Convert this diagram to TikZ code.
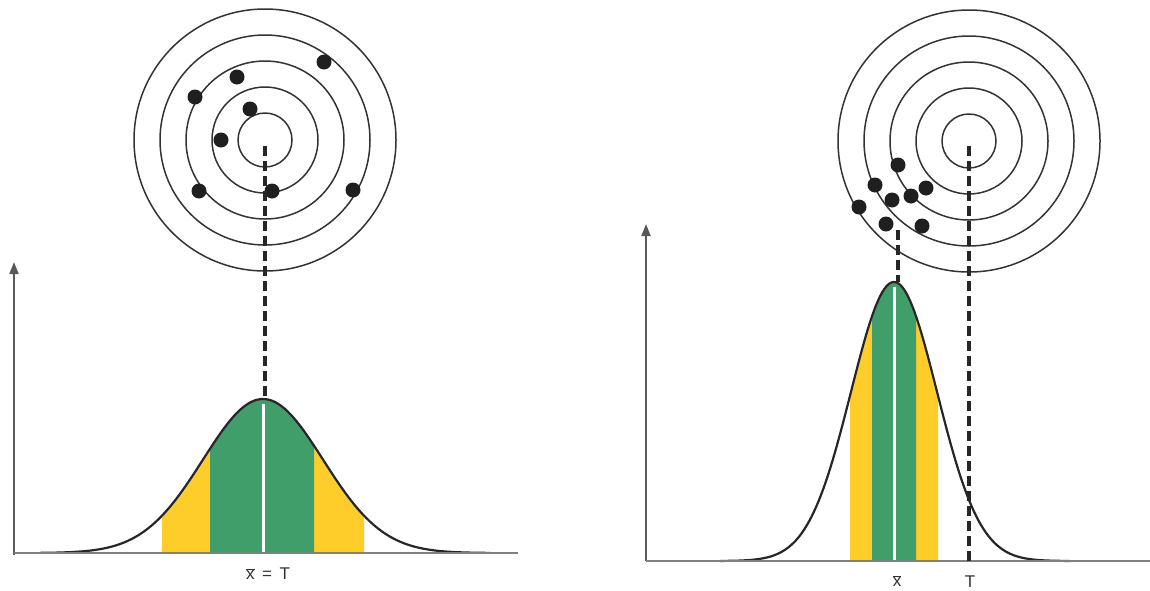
\documentclass[tikz,border=0pt]{standalone}
\usepackage{fontspec}
\setmainfont{Liberation Sans}
\usetikzlibrary{arrows.meta}
\definecolor{bellgreen}{RGB}{64,158,107}
\definecolor{bellyellow}{RGB}{254,205,42}
\newcommand{\xbar}{$\overline{\hbox{x}}$}
\tikzset{
  ring/.style={line width=1.5pt, black!80},
  shot/.style={fill=black!88},
  axis/.style={line width=2pt, black!65, -{Triangle[length=12pt,width=9pt]}},
  baseline/.style={line width=2.8pt, black!50},
  guide/.style={line width=3.6pt, dash pattern=on 10pt off 5pt, black!85},
  bell/.style={line width=2.2pt, black!85},
  lbl/.style={font=\fontsize{17}{18}\selectfont, text=black!80},
  declare function={
    lbell(\x)=553-154*exp(-0.5*((\x-263)/60)^2);
    rbell(\x)=561-279*exp(-0.5*((\x-894)/43)^2);
  }
}
\begin{document}
\begin{tikzpicture}[x=1pt,y=-1pt]
  \useasboundingbox (0,0) rectangle (1150,590);
  % targets
  \coordinate (lc) at (265,140);
  \coordinate (rc) at (969,141);
  \foreach \r in {27,53,79,105,131} {
    \draw[ring] (lc) circle (\r);
    \draw[ring] (rc) circle (\r);
  }
  \foreach \p in {(324,62),(237,77),(195,97),(250,109),(221,140),(199,191),(272,191),(353,190)}
    \fill[shot] \p circle (7.5);
  \foreach \p in {(898,165),(875,185),(926,188),(892,200),(911,196),(859,207),(886,224),(922,226)}
    \fill[shot] \p circle (7.5);
  % left bell: on target
  \fill[bellyellow] plot[domain=162:364, samples=60] (\x,{lbell(\x)}) -- (364,553) -- (162,553) -- cycle;
  \fill[bellgreen] plot[domain=210:314, samples=40] (\x,{lbell(\x)}) -- (314,553) -- (210,553) -- cycle;
  \draw[white, line width=3pt] (263,404) -- (263,553);
  \draw[bell] plot[domain=40:490, samples=150] (\x,{lbell(\x)});
  \draw[axis] (14,555) -- (14,262);
  \draw[baseline] (14,553) -- (518,553);
  \coordinate (lpeak) at (265,398);
  \draw[guide] ([yshift=-6pt]lc) -- (lpeak);
  \node[lbl] (lmean) at (268,574) {\xbar\, = \,T};
  % right bell: off target
  \fill[bellyellow] plot[domain=850:938, samples=40] (\x,{rbell(\x)}) -- (938,561) -- (850,561) -- cycle;
  \fill[bellgreen] plot[domain=872:916, samples=30] (\x,{rbell(\x)}) -- (916,561) -- (872,561) -- cycle;
  \draw[white, line width=3pt] (894,287) -- (894,561);
  \draw[bell] plot[domain=720:1070, samples=150] (\x,{rbell(\x)});
  \draw[axis] (646,561) -- (646,224);
  \draw[baseline] (646,561) -- (1150,561);
  \coordinate (rmean) at (898,230);
  \coordinate (rpeak) at (898,282);
  \coordinate (rtarget) at (969,561);
  \draw[guide] (rmean) -- (rpeak);
  \draw[guide] ([yshift=-5pt]rc) -- (rtarget);
  \node[lbl] (xmean) at (897,581) {\xbar};
  \node[lbl] (tval) at (970,582) {T};
\end{tikzpicture}
\end{document}
